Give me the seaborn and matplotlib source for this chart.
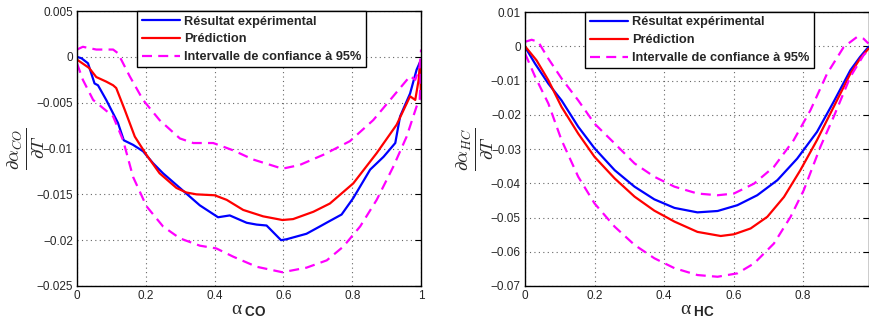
import matplotlib
matplotlib.use("Agg")
import matplotlib.pyplot as plt
import matplotlib.ticker as mticker
import seaborn as sns

# --- data -------------------------------------------------------------------
co_exp_x = [0, 0.013, 0.032, 0.051, 0.061, 0.085, 0.119, 0.136, 0.163, 0.192,
            0.221, 0.25, 0.299, 0.357, 0.41, 0.444, 0.493, 0.522, 0.551, 0.593,
            0.609, 0.667, 0.706, 0.73, 0.769, 0.803, 0.852, 0.891, 0.925, 0.939,
            0.968, 0.987, 1.0]
co_exp_y = [0, -0.00015, -0.0007, -0.0029, -0.0031, -0.0047, -0.0072, -0.0091,
            -0.0096, -0.0103, -0.0116, -0.0127, -0.0143, -0.0162, -0.0175,
            -0.0173, -0.0181, -0.0183, -0.0184, -0.0200, -0.0199, -0.0193,
            -0.0185, -0.0180, -0.0172, -0.0154, -0.0123, -0.0109, -0.0094,
            -0.0065, -0.0040, -0.0014, -0.0003]

co_pred_x = [0, 0.035, 0.056, 0.085, 0.105, 0.114, 0.139, 0.168, 0.202, 0.24,
             0.289, 0.318, 0.347, 0.4, 0.435, 0.483, 0.541, 0.597, 0.628, 0.687,
             0.735, 0.803, 0.871, 0.929, 0.968, 0.983, 0.993, 0.997, 1.0]
co_pred_y = [-0.0003, -0.0012, -0.0022, -0.0027, -0.0031, -0.0034, -0.0058,
             -0.0087, -0.0107, -0.0127, -0.0143, -0.0148, -0.0150, -0.0151,
             -0.0156, -0.0167, -0.0174, -0.0178, -0.0177, -0.0169, -0.0160,
             -0.0138, -0.0105, -0.0074, -0.0043, -0.0047, -0.0025, -0.0005,
             -0.0045]

co_up_x = [0, 0.017, 0.056, 0.105, 0.119, 0.153, 0.192, 0.24, 0.299, 0.338,
           0.396, 0.454, 0.512, 0.597, 0.647, 0.715, 0.793, 0.861, 0.919, 0.968,
           0.983, 0.996, 1.0]
co_up_y = [0.0008, 0.0011, 0.0008, 0.0008, 0.0004, -0.0021, -0.0047, -0.0069,
           -0.0089, -0.0094, -0.0094, -0.0102, -0.0112, -0.0122, -0.0118,
           -0.0107, -0.0092, -0.0069, -0.0043, -0.0021, -0.0025, -0.0011, 0.0008]

co_lo_x = [0, 0.017, 0.047, 0.105, 0.134, 0.163, 0.202, 0.25, 0.299, 0.357,
           0.405, 0.454, 0.522, 0.597, 0.667, 0.726, 0.774, 0.823, 0.871, 0.919,
           0.958, 0.987, 0.996, 1.0]
co_lo_y = [-0.0007, -0.0025, -0.0047, -0.0065, -0.0091, -0.0131, -0.0163,
           -0.0185, -0.0198, -0.0206, -0.0209, -0.0218, -0.0229, -0.0235,
           -0.0230, -0.0222, -0.0207, -0.0185, -0.0156, -0.0120, -0.0087,
           -0.0054, -0.0047, -0.0005]

hc_exp_x = [0, 0.029, 0.067, 0.105, 0.153, 0.2, 0.258, 0.315, 0.372, 0.43,
            0.496, 0.554, 0.611, 0.668, 0.726, 0.783, 0.84, 0.888, 0.936, 0.964,
            0.988]
hc_exp_y = [-0.0002, -0.0051, -0.0109, -0.0158, -0.0235, -0.0298, -0.0362,
            -0.0410, -0.0447, -0.0472, -0.0485, -0.0481, -0.0464, -0.0435,
            -0.0391, -0.0328, -0.0250, -0.0162, -0.0070, -0.0031, -0.0002]

hc_pred_x = [0, 0.033, 0.067, 0.105, 0.153, 0.2, 0.258, 0.315, 0.372, 0.43,
             0.496, 0.563, 0.601, 0.649, 0.697, 0.745, 0.792, 0.84, 0.888, 0.936,
             0.964, 0.988]
hc_pred_y = [0, -0.0041, -0.0099, -0.0177, -0.0255, -0.0323, -0.0386, -0.0439,
             -0.0480, -0.0512, -0.0542, -0.0554, -0.0549, -0.0532, -0.0498,
             -0.0440, -0.0362, -0.0274, -0.0177, -0.0080, -0.0036, -0.0007]

hc_up_x = [0, 0.019, 0.038, 0.067, 0.105, 0.153, 0.2, 0.258, 0.315, 0.372, 0.43,
           0.496, 0.554, 0.601, 0.659, 0.716, 0.773, 0.821, 0.869, 0.917, 0.955,
           0.974, 0.988]
hc_up_y = [0.0013, 0.0019, 0.0013, -0.0036, -0.0094, -0.0158, -0.0226, -0.0284,
           -0.0342, -0.0381, -0.0410, -0.0430, -0.0435, -0.0430, -0.0401,
           -0.0352, -0.0274, -0.0187, -0.0080, -0.0002, 0.0027, 0.0022, 0.0008]

hc_lo_x = [0, 0.029, 0.067, 0.105, 0.153, 0.2, 0.258, 0.315, 0.372, 0.43, 0.496,
           0.554, 0.611, 0.659, 0.716, 0.764, 0.802, 0.85, 0.888, 0.936, 0.974,
           0.988]
hc_lo_y = [-0.0021, -0.0089, -0.0167, -0.0274, -0.0381, -0.0459, -0.0527,
           -0.0580, -0.0619, -0.0648, -0.0668, -0.0673, -0.0663, -0.0634,
           -0.0576, -0.0498, -0.0420, -0.0293, -0.0206, -0.0089, -0.0026, -0.0012]

legend_labels = ["Résultat expérimental", "Prédiction",
                 "Intervalle de confiance à 95%"]

# --- style ------------------------------------------------------------------
sns.set_style("white")
plt.rcParams["font.family"] = ["Liberation Sans", "DejaVu Sans"]
plt.rcParams["mathtext.fontset"] = "cm"
plt.rcParams["mathtext.rm"] = "Liberation Serif"
plt.rcParams["mathtext.it"] = "Liberation Serif:italic"
plt.rcParams["mathtext.bf"] = "Liberation Sans:bold"


def fmt(v, _pos):
    s = f"{v:g}"
    if abs(v) < 1e-12:
        s = "0"
    return s.replace("-", "\u2212")


def draw_panel(ax, exp, pred, up, lo, xlim, ylim, yticks, sub, ylab_x):
    lw = 1.6
    sns.lineplot(x=exp[0], y=exp[1], color="#0000ff", lw=lw, ax=ax,
                 label=legend_labels[0], estimator=None, sort=False)
    sns.lineplot(x=pred[0], y=pred[1], color="#ff0000", lw=lw, ax=ax,
                 label=legend_labels[1], estimator=None, sort=False)
    sns.lineplot(x=up[0], y=up[1], color="#ff00ff", lw=lw, ax=ax,
                 label=legend_labels[2], estimator=None, sort=False)
    sns.lineplot(x=lo[0], y=lo[1], color="#ff00ff", lw=lw, ax=ax,
                 estimator=None, sort=False)
    for line in ax.get_lines()[2:]:
        line.set_dashes((4.5, 2.8))

    ax.set_xticks([0, 0.2, 0.4, 0.6, 0.8, 1.0])
    ax.set_yticks(yticks)
    ax.set_xlim(*xlim)
    ax.set_ylim(*ylim)
    ax.xaxis.set_major_formatter(mticker.FuncFormatter(fmt))
    ax.yaxis.set_major_formatter(mticker.FuncFormatter(fmt))
    ax.tick_params(direction="in", length=4, width=0.8, labelsize=8.5,
                   top=True, right=True, color="black", pad=3)
    ax.grid(True, linestyle=(0, (1, 3)), color="#666666", linewidth=0.8)
    for sp in ax.spines.values():
        sp.set_color("black")
        sp.set_linewidth(1.0)

    ax.set_xlabel(r"$\mathrm{\alpha}_{\ \mathbf{%s}}$" % sub, fontsize=14,
                  math_fontfamily="custom", labelpad=0)
    ax.set_ylabel(r"$\frac{\partial\alpha_{%s}}{\partial T}$" % sub,
                  fontsize=19, ha="center", va="center")
    ax.yaxis.set_label_coords(ylab_x, 0.5)

    handles, labels = ax.get_legend_handles_labels()
    leg = ax.legend(handles, labels, loc="upper left",
                    bbox_to_anchor=(0.175, 1.0), borderaxespad=0,
                    fancybox=False, framealpha=1, edgecolor="black",
                    handlelength=3.0, handletextpad=0.3, labelspacing=0.45,
                    borderpad=0.35, prop={"weight": "bold", "size": 9.2})
    leg.get_frame().set_linewidth(1.0)


fig = plt.figure(figsize=(8.7, 3.25), dpi=100)
ax1 = fig.add_axes([0.0885, 0.12, 0.3955, 0.846])
ax2 = fig.add_axes([0.6035, 0.12, 0.3955, 0.843])

draw_panel(ax1, (co_exp_x, co_exp_y), (co_pred_x, co_pred_y),
           (co_up_x, co_up_y), (co_lo_x, co_lo_y),
           (0, 1), (-0.025, 0.005),
           [0.005, 0, -0.005, -0.01, -0.015, -0.02, -0.025], "CO", -0.146)
draw_panel(ax2, (hc_exp_x, hc_exp_y), (hc_pred_x, hc_pred_y),
           (hc_up_x, hc_up_y), (hc_lo_x, hc_lo_y),
           (0, 0.99), (-0.07, 0.01),
           [0.01, 0, -0.01, -0.02, -0.03, -0.04, -0.05, -0.06, -0.07], "HC",
           -0.143)

fig.savefig("out.png", dpi=100)
plt.close(fig)
